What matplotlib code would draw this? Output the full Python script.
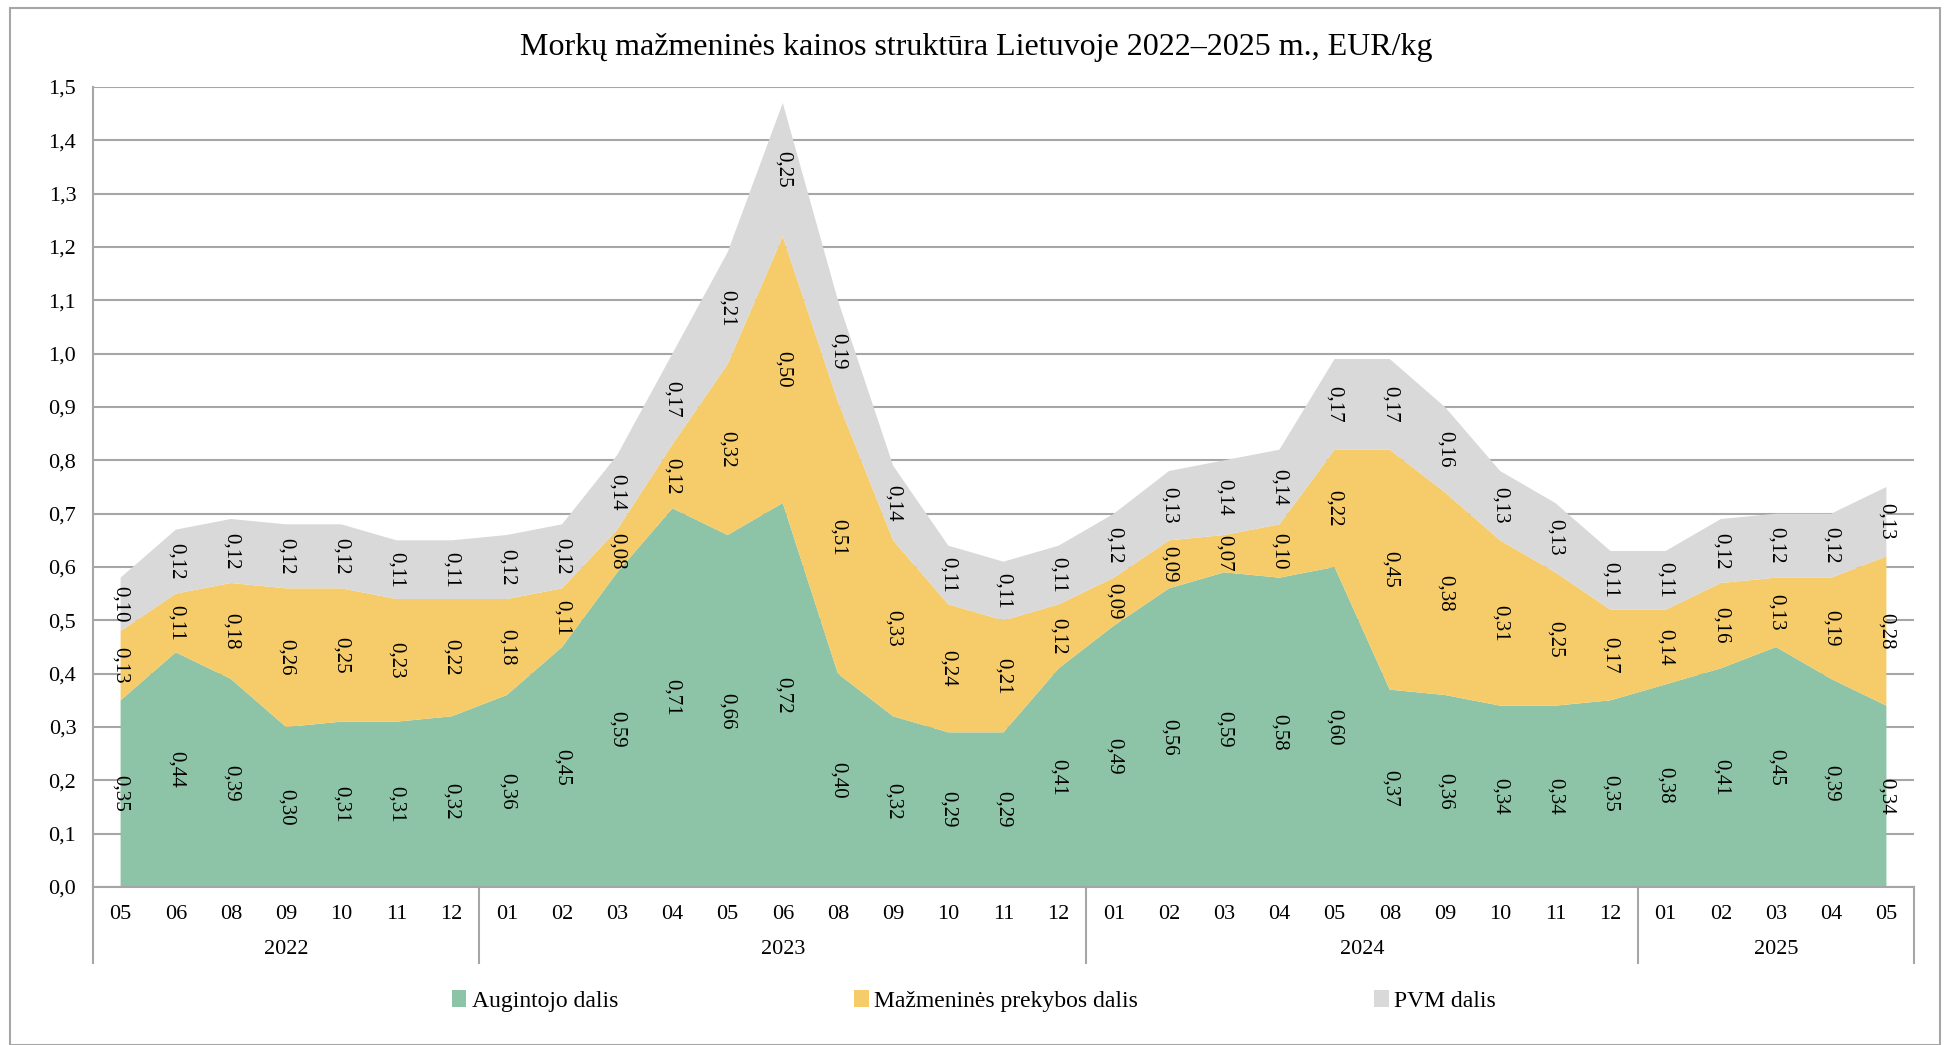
import matplotlib
matplotlib.use('Agg')
import matplotlib.pyplot as plt
import matplotlib.transforms as mtransforms
from matplotlib.patches import Rectangle, Patch
import numpy as np

plt.rcParams['font.family'] = ['Liberation Serif', 'DejaVu Serif']

years = ["2022", "2023", "2024", "2025"]
months = [
    ["05", "06", "08", "09", "10", "11", "12"],
    ["01", "02", "03", "04", "05", "06", "08", "09", "10", "11", "12"],
    ["01", "02", "03", "04", "05", "08", "09", "10", "11", "12"],
    ["01", "02", "03", "04", "05"],
]

augintojo = [0.35, 0.44, 0.39, 0.30, 0.31, 0.31, 0.32,
             0.36, 0.45, 0.59, 0.71, 0.66, 0.72, 0.40, 0.32, 0.29, 0.29, 0.41,
             0.49, 0.56, 0.59, 0.58, 0.60, 0.37, 0.36, 0.34, 0.34, 0.35,
             0.38, 0.41, 0.45, 0.39, 0.34]
prekybos = [0.13, 0.11, 0.18, 0.26, 0.25, 0.23, 0.22,
            0.18, 0.11, 0.08, 0.12, 0.32, 0.50, 0.51, 0.33, 0.24, 0.21, 0.12,
            0.09, 0.09, 0.07, 0.10, 0.22, 0.45, 0.38, 0.31, 0.25, 0.17,
            0.14, 0.16, 0.13, 0.19, 0.28]
pvm = [0.10, 0.12, 0.12, 0.12, 0.12, 0.11, 0.11,
       0.12, 0.12, 0.14, 0.17, 0.21, 0.25, 0.19, 0.14, 0.11, 0.11, 0.11,
       0.12, 0.13, 0.14, 0.14, 0.17, 0.17, 0.16, 0.13, 0.13, 0.11,
       0.11, 0.12, 0.12, 0.12, 0.13]

series_names = ["Augintojo dalis", "Mažmeninės prekybos dalis", "PVM dalis"]
colors = ["#8DC3A7", "#F5CC69", "#D9D9D9"]
grid_col = "#A6A6A6"

month_labels = [m for grp in months for m in grp]
x = np.arange(len(month_labels))

fig = plt.figure(figsize=(19.52, 10.45), dpi=100)
W, H = 1952, 1045
ax = fig.add_axes([93 / W, (H - 887) / H, (1914 - 93) / W, (887 - 87) / H])

data = [augintojo, prekybos, pvm]
ax.stackplot(x, *data, colors=colors, linewidth=0)

# data labels in middle of each band
base = np.zeros(len(x))
for vals in data:
    vals = np.array(vals)
    for xi, b, v in zip(x, base, vals):
        ax.text(xi, b + v / 2, f"{v:.2f}".replace('.', ','), rotation=270,
                ha='center', va='center', fontsize=15)
    base = base + vals

ax.set_xlim(-0.5, len(x) - 0.5)
ax.set_ylim(0, 1.5)
ax.set_yticks(np.arange(0, 1.51, 0.1))
ax.set_yticklabels([f"{v:.1f}".replace('.', ',') for v in np.arange(0, 1.51, 0.1)])
ax.set_axisbelow(True)
ax.grid(axis='y', color=grid_col, linewidth=1.5)
ax.set_xticks(x)
ax.set_xticklabels(month_labels)
ax.tick_params(axis='both', length=0, labelsize=16)
ax.tick_params(axis='x', pad=13)
ax.tick_params(axis='y', pad=12)
for s in ['top', 'right']:
    ax.spines[s].set_visible(False)
for s in ['left', 'bottom']:
    ax.spines[s].set_color(grid_col)
    ax.spines[s].set_linewidth(1.5)

# year groups
trans = mtransforms.blended_transform_factory(ax.transData, ax.transAxes)
bounds = [-0.5]
for grp in months:
    bounds.append(bounds[-1] + len(grp))
y_low = -(963 - 887) / (887 - 87)
for b in bounds:
    ax.plot([b, b], [0, y_low], transform=trans, color=grid_col, lw=1.5, clip_on=False)
for i, yr in enumerate(years):
    ax.text((bounds[i] + bounds[i + 1]) / 2, -(949 - 887) / (887 - 87), yr,
            transform=trans, ha='center', va='center', fontsize=16)

fig.text(0.5, 1 - 47 / H, "Morkų mažmeninės kainos struktūra Lietuvoje 2022–2025 m., EUR/kg",
         ha='center', va='center', fontsize=23)

handles = [Patch(facecolor=c, edgecolor='none') for c in colors]
fig.legend(handles, series_names, loc='center', bbox_to_anchor=(974 / W, 1 - 1001 / H),
           ncol=3, frameon=False, fontsize=17, handlelength=0.6, handleheight=0.7,
           handletextpad=0.25, columnspacing=10)

fig.patches.append(Rectangle((10 / W, 0), (1940 - 10) / W, 1 - 8 / H,
                             transform=fig.transFigure, fill=False,
                             edgecolor='#A6A6A6', lw=1.5))

fig.savefig("out.png", dpi=100)
